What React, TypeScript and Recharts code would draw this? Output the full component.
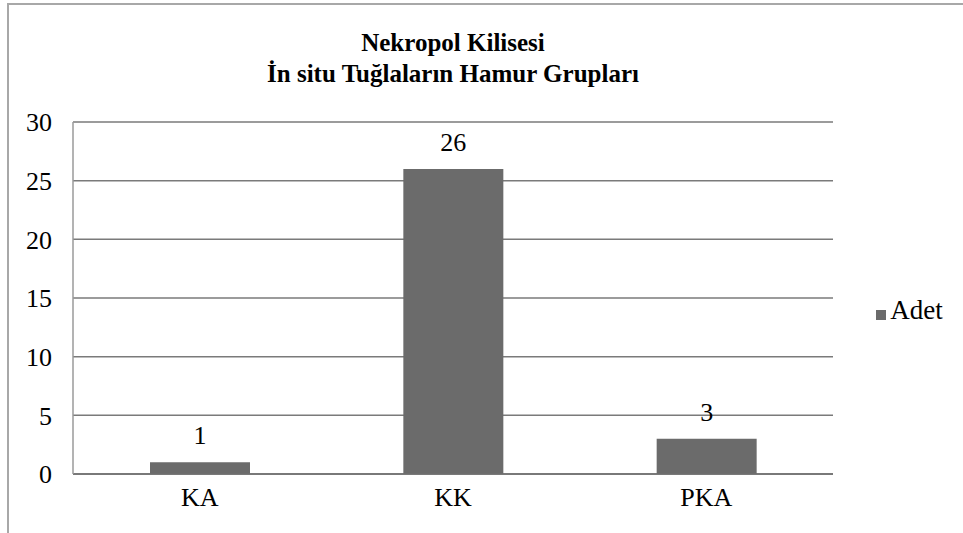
import React from "react";
import { BarChart, Bar, XAxis, YAxis, CartesianGrid, Legend, LabelList } from "recharts";

const categories = ["KA", "KK", "PKA"];
const adetValues = [1, 26, 3];
const yTicks = [0, 5, 10, 15, 20, 25, 30];
const titleLines = ["Nekropol Kilisesi", "İn situ Tuğlaların Hamur Grupları"];
const seriesName = "Adet";

const data = categories.map((c, i) => ({ name: c, Adet: adetValues[i] }));
const FONT = "Liberation Serif, Times New Roman, serif";

export default function App() {
  return (
    <div style={{ position: "absolute", left: 0, top: 0, width: 963, height: 533, background: "#fff", fontFamily: FONT, overflow: "hidden" }}>
      <div style={{ position: "absolute", left: 7, top: 3, right: 0, bottom: 0, borderTop: "2px solid #a8a8a8", borderLeft: "2px solid #a8a8a8" }} />
      <div style={{ position: "absolute", left: 153, top: 27, width: 600, textAlign: "center", fontWeight: "bold", fontSize: 25, lineHeight: "31px", color: "#000", fontFamily: FONT }}>
        {titleLines.map((t) => (
          <div key={t}>{t}</div>
        ))}
      </div>
      <BarChart width={963} height={533} data={data} margin={{ top: 122, right: 130, bottom: 29, left: 13 }}>
        <CartesianGrid vertical={false} stroke="#7a7a7a" strokeWidth={1.5} />
        <XAxis
          dataKey="name"
          height={30}
          axisLine={{ stroke: "#6e6e6e", strokeWidth: 1.5 }}
          tickLine={false}
          tickSize={0}
          tickMargin={14}
          tick={{ fill: "#000", fontSize: 26, fontFamily: FONT }}
        />
        <YAxis
          width={60}
          domain={[0, 30]}
          ticks={yTicks}
          interval={0}
          axisLine={{ stroke: "#9a9a9a", strokeWidth: 1.5 }}
          tickLine={false}
          tickSize={0}
          tickMargin={21}
          tick={{ fill: "#000", fontSize: 26, fontFamily: FONT }}
        />
        <Legend
          layout="horizontal"
          verticalAlign="middle"
          align="center"
          iconType="square"
          iconSize={10}
          wrapperStyle={{ left: 866, top: 295, width: 97, textAlign: "left" }}
          formatter={(v) => <span style={{ color: "#000", fontSize: 27, fontFamily: FONT }}>{v}</span>}
        />
        <Bar dataKey="Adet" name={seriesName} fill="#6b6b6b" barSize={100} isAnimationActive={false}>
          <LabelList dataKey="Adet" position="top" offset={18} style={{ fill: "#000", fontSize: 26, fontFamily: FONT }} />
        </Bar>
      </BarChart>
    </div>
  );
}
